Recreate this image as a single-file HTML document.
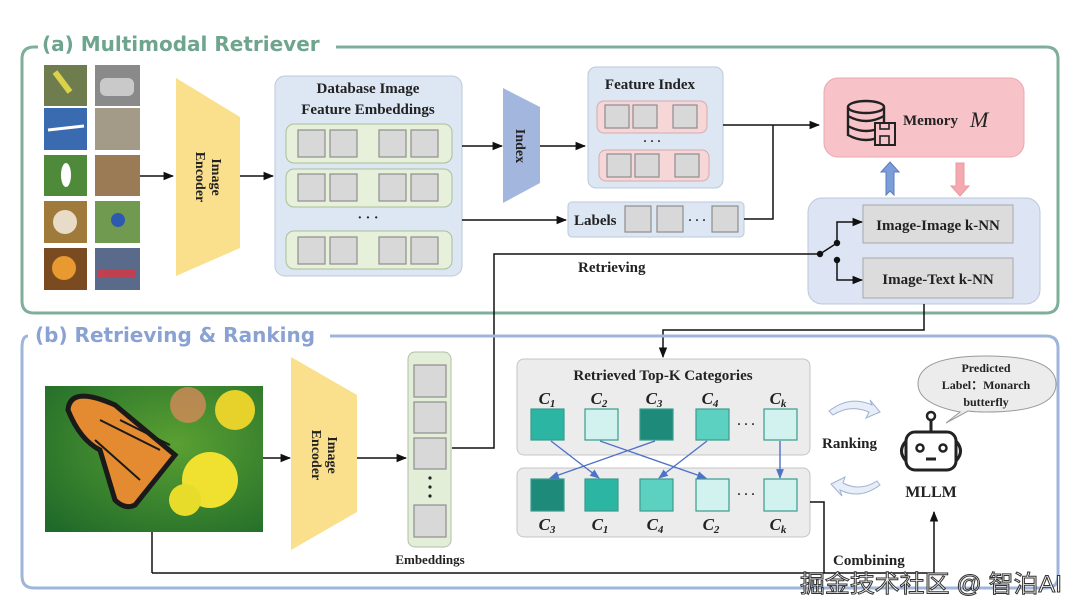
<!DOCTYPE html>
<html><head><meta charset="utf-8"><style>
html,body{margin:0;padding:0;background:#fff;}
svg{display:block;}
.t{font-family:"Liberation Serif",serif;font-weight:bold;fill:#222;}
.ti{font-family:"Liberation Serif",serif;font-style:italic;font-weight:bold;fill:#222;}
.h{font-family:"DejaVu Sans","Liberation Sans",sans-serif;font-weight:bold;}
</style></head><body>
<svg width="1080" height="616" viewBox="0 0 1080 616" xmlns="http://www.w3.org/2000/svg">
<defs>
<marker id="a" viewBox="0 0 10 10" refX="9" refY="5" markerWidth="7" markerHeight="7" orient="auto"><path d="M0,1 L10,5 L0,9 z" fill="#111"/></marker>
<marker id="b" viewBox="0 0 10 10" refX="9" refY="5" markerWidth="7" markerHeight="7" orient="auto"><path d="M0,1 L10,5 L0,9 z" fill="#4e72c8"/></marker>
<radialGradient id="bg" cx="0.6" cy="0.4" r="0.8"><stop offset="0" stop-color="#5aa032"/><stop offset="1" stop-color="#1f6a2a"/></radialGradient>
</defs>

<!-- Panel a -->
<path d="M336,47 H1046 Q1058,47 1058,59 V301 Q1058,313 1046,313 H34 Q22,313 22,301 V59 Q22,47 34,47 H38" fill="none" stroke="#7fae9a" stroke-width="3"/>
<text x="42" y="51" class="h" font-size="20" fill="#6fa58f">(a) Multimodal Retriever</text>

<!-- image grid -->
<g>
<rect x="44" y="65" width="43" height="41" fill="#6f7d4e"/><rect x="95" y="65" width="45" height="41" fill="#8a8a8a"/>
<rect x="44" y="108" width="43" height="42" fill="#3a6bb0"/><rect x="95" y="108" width="45" height="42" fill="#a49a88"/>
<rect x="44" y="155" width="43" height="41" fill="#4f8a3a"/><rect x="95" y="155" width="45" height="41" fill="#9b7b55"/>
<rect x="44" y="201" width="43" height="42" fill="#a07a3a"/><rect x="95" y="201" width="45" height="42" fill="#6f9a50"/>
<rect x="44" y="248" width="43" height="42" fill="#7a4a20"/><rect x="95" y="248" width="45" height="42" fill="#5a6a8a"/>
<path d="M55,72 L70,92" stroke="#d9d24a" stroke-width="6"/><rect x="100" y="78" width="34" height="18" rx="6" fill="#c9c9c9"/>
<path d="M48,130 L84,126" stroke="#fff" stroke-width="3"/><ellipse cx="66" cy="175" rx="5" ry="12" fill="#fff"/>
<circle cx="65" cy="222" r="12" fill="#e8dcc8"/><circle cx="118" cy="220" r="7" fill="#2d5ab0"/>
<circle cx="64" cy="268" r="12" fill="#e89a30"/><rect x="98" y="270" width="38" height="8" fill="#c04050"/>
</g>
<line x1="140" y1="176" x2="173" y2="176" stroke="#111" stroke-width="1.5" marker-end="url(#a)"/>
<polygon points="176,78 240,117 240,248 176,276" fill="#fadf8c"/>
<text transform="translate(208,177) rotate(90)" text-anchor="middle" class="t" font-size="14"><tspan x="0" y="-4">Image</tspan><tspan x="0" y="12">Encoder</tspan></text>
<line x1="240" y1="176" x2="273" y2="176" stroke="#111" stroke-width="1.5" marker-end="url(#a)"/>

<!-- DB embeddings -->
<rect x="275" y="76" width="187" height="200" rx="10" fill="#dde6f3" stroke="#bcc8dc"/>
<text x="368" y="93" text-anchor="middle" class="t" font-size="15">Database Image</text>
<text x="368" y="114" text-anchor="middle" class="t" font-size="15">Feature Embeddings</text>
<g fill="#e6f0da" stroke="#a9bf98">
<rect x="286" y="124" width="166" height="39" rx="8"/><rect x="286" y="169" width="166" height="38" rx="8"/><rect x="286" y="231" width="166" height="38" rx="8"/>
</g>
<g fill="#d8d8d8" stroke="#8e8e8e" stroke-width="1.2">
<rect x="298" y="130" width="27" height="27"/><rect x="330" y="130" width="27" height="27"/><rect x="379" y="130" width="27" height="27"/><rect x="411" y="130" width="27" height="27"/>
<rect x="298" y="174" width="27" height="27"/><rect x="330" y="174" width="27" height="27"/><rect x="379" y="174" width="27" height="27"/><rect x="411" y="174" width="27" height="27"/>
<rect x="298" y="237" width="27" height="27"/><rect x="330" y="237" width="27" height="27"/><rect x="379" y="237" width="27" height="27"/><rect x="411" y="237" width="27" height="27"/>
</g>
<text x="368" y="222" text-anchor="middle" class="t" font-size="14">· · ·</text>

<line x1="462" y1="146" x2="502" y2="146" stroke="#111" stroke-width="1.5" marker-end="url(#a)"/>
<polygon points="503,88 540,107 540,183 503,203" fill="#a3b7de"/>
<text transform="translate(521,146) rotate(90)" text-anchor="middle" y="5" class="t" font-size="14">Index</text>
<line x1="540" y1="146" x2="585" y2="146" stroke="#111" stroke-width="1.5" marker-end="url(#a)"/>

<!-- Feature index -->
<rect x="588" y="67" width="135" height="121" rx="8" fill="#dde6f3" stroke="#bcc8dc"/>
<text x="650" y="89" text-anchor="middle" class="t" font-size="15">Feature Index</text>
<rect x="597" y="101" width="110" height="32" rx="7" fill="#f7d6d8" stroke="#d4a9ad"/>
<rect x="599" y="150" width="110" height="31" rx="7" fill="#f7d6d8" stroke="#d4a9ad"/>
<g fill="#d8d8d8" stroke="#8e8e8e" stroke-width="1.2">
<rect x="605" y="105" width="24" height="23"/><rect x="633" y="105" width="24" height="23"/><rect x="673" y="105" width="24" height="23"/>
<rect x="607" y="154" width="24" height="23"/><rect x="635" y="154" width="24" height="23"/><rect x="675" y="154" width="24" height="23"/>
</g>
<text x="652" y="145" text-anchor="middle" class="t" font-size="12">· · ·</text>

<!-- Labels -->
<line x1="462" y1="220" x2="566" y2="220" stroke="#111" stroke-width="1.5" marker-end="url(#a)"/>
<rect x="568" y="202" width="176" height="35" rx="4" fill="#dde6f3" stroke="#bcc8dc"/>
<text x="574" y="225" class="t" font-size="15">Labels</text>
<g fill="#d8d8d8" stroke="#8e8e8e" stroke-width="1.2">
<rect x="625" y="206" width="26" height="26"/><rect x="657" y="206" width="26" height="26"/><rect x="712" y="206" width="26" height="26"/>
</g>
<text x="697" y="224" text-anchor="middle" class="t" font-size="12">· · ·</text>

<polyline points="723,125 819,125" fill="none" stroke="#111" stroke-width="1.5" marker-end="url(#a)"/>
<polyline points="744,219 773,219 773,125" fill="none" stroke="#111" stroke-width="1.5"/>

<!-- Memory -->
<rect x="824" y="78" width="200" height="79" rx="14" fill="#f7c3c8" stroke="#eaaab0"/>
<g fill="none" stroke="#222" stroke-width="2.4">
<ellipse cx="866" cy="107" rx="18" ry="6"/>
<path d="M848,107 V135 Q866,145 884,135 V107"/>
<path d="M848,116 Q866,126 884,116"/><path d="M848,126 Q866,136 884,126"/>
</g>
<rect x="875" y="123" width="20" height="22" fill="#f7c3c8" stroke="#222" stroke-width="2"/>
<rect x="880" y="123" width="9" height="6" fill="none" stroke="#222" stroke-width="1.6"/>
<rect x="880" y="136" width="9" height="9" fill="none" stroke="#222" stroke-width="1.6"/>
<text x="903" y="125" class="t" font-size="15">Memory</text>
<text x="970" y="127" font-family="Liberation Serif,serif" font-style="italic" font-size="22" fill="#222">M</text>
<polygon points="890,162 899,172 894,172 894,195 890,191 886,195 886,172 881,172" fill="#7b9ed8" stroke="#5a7cc0"/>
<polygon points="956,163 964,163 964,186 969,186 960,196 951,186 956,186" fill="#f4a9b0" stroke="#e99aa2"/>

<!-- kNN box -->
<rect x="808" y="198" width="232" height="106" rx="14" fill="#dde5f4" stroke="#bcc8dc"/>
<rect x="863" y="205" width="150" height="38" fill="#dcdcdc" stroke="#a8a8a8"/>
<rect x="863" y="258" width="150" height="40" fill="#dcdcdc" stroke="#a8a8a8"/>
<text x="938" y="230" text-anchor="middle" class="t" font-size="15">Image-Image k-NN</text>
<text x="938" y="284" text-anchor="middle" class="t" font-size="15">Image-Text k-NN</text>
<polyline points="837,243 837,222 862,222" fill="none" stroke="#111" stroke-width="1.5" marker-end="url(#a)"/>
<polyline points="837,260 837,280 862,280" fill="none" stroke="#111" stroke-width="1.5" marker-end="url(#a)"/>
<line x1="820" y1="254" x2="837" y2="243" stroke="#111" stroke-width="1.5"/>
<circle cx="820" cy="254" r="3.2" fill="#111"/><circle cx="837" cy="243" r="3.2" fill="#111"/><circle cx="837" cy="260" r="3.2" fill="#111"/>
<polyline points="820,254 494,254 494,448 452,448" fill="none" stroke="#111" stroke-width="1.5"/>
<text x="578" y="272" class="t" font-size="15">Retrieving</text>
<polyline points="924,304 924,330 663,330 663,357" fill="none" stroke="#111" stroke-width="1.5" marker-end="url(#a)"/>

<!-- Panel b -->
<path d="M330,336 H1046 Q1058,336 1058,348 V576 Q1058,588 1046,588 H34 Q22,588 22,576 V348 Q22,336 28,336" fill="none" stroke="#9fb5da" stroke-width="3"/>
<text x="35" y="342" class="h" font-size="20" fill="#8aa2d3">(b) Retrieving &amp; Ranking</text>

<!-- butterfly -->
<rect x="45" y="386" width="218" height="146" fill="url(#bg)"/>
<circle cx="235" cy="410" r="20" fill="#e6d22a"/><circle cx="188" cy="405" r="18" fill="#d48a5a" opacity="0.8"/>
<circle cx="210" cy="480" r="28" fill="#f0e030"/><circle cx="185" cy="500" r="16" fill="#e8dc2a"/>
<path d="M115,405 Q70,385 68,410 Q80,440 100,450 L115,500 Q125,510 135,505 L175,455 Z" fill="#e48a30" stroke="#1a1a1a" stroke-width="5"/>
<path d="M100,420 L160,450 M95,440 L140,480 M120,420 L170,445" stroke="#1a1a1a" stroke-width="2"/>
<line x1="152" y1="573" x2="152" y2="532" stroke="#111" stroke-width="1.5"/>

<line x1="263" y1="458" x2="290" y2="458" stroke="#111" stroke-width="1.5" marker-end="url(#a)"/>
<polygon points="291,357 357,395 357,512 291,550" fill="#fadf8c"/>
<text transform="translate(324,455) rotate(90)" text-anchor="middle" class="t" font-size="14"><tspan x="0" y="-4">Image</tspan><tspan x="0" y="12">Encoder</tspan></text>
<line x1="357" y1="458" x2="406" y2="458" stroke="#111" stroke-width="1.5" marker-end="url(#a)"/>

<rect x="408" y="352" width="43" height="195" rx="7" fill="#e3eed8" stroke="#b0bfa6"/>
<g fill="#d8d8d8" stroke="#8e8e8e" stroke-width="1.2">
<rect x="414" y="365" width="32" height="32"/><rect x="414" y="402" width="32" height="31"/><rect x="414" y="438" width="32" height="31"/><rect x="414" y="505" width="32" height="32"/>
</g>
<circle cx="430" cy="478" r="1.6" fill="#222"/><circle cx="430" cy="487" r="1.6" fill="#222"/><circle cx="430" cy="496" r="1.6" fill="#222"/>
<text x="430" y="564" text-anchor="middle" class="t" font-size="13">Embeddings</text>

<!-- Top-K -->
<rect x="517" y="359" width="293" height="96" rx="7" fill="#ececec" stroke="#c5c5c5"/>
<rect x="517" y="468" width="293" height="69" rx="7" fill="#ececec" stroke="#c5c5c5"/>
<text x="663" y="380" text-anchor="middle" class="t" font-size="15">Retrieved Top-K Categories</text>
<g class="ti" font-size="17" text-anchor="middle">
<text x="547" y="404">C<tspan font-size="11" dy="3">1</tspan></text>
<text x="599" y="404">C<tspan font-size="11" dy="3">2</tspan></text>
<text x="654" y="404">C<tspan font-size="11" dy="3">3</tspan></text>
<text x="710" y="404">C<tspan font-size="11" dy="3">4</tspan></text>
<text x="778" y="404">C<tspan font-size="11" dy="3">k</tspan></text>
<text x="547" y="530">C<tspan font-size="11" dy="3">3</tspan></text>
<text x="600" y="530">C<tspan font-size="11" dy="3">1</tspan></text>
<text x="655" y="530">C<tspan font-size="11" dy="3">4</tspan></text>
<text x="711" y="530">C<tspan font-size="11" dy="3">2</tspan></text>
<text x="778" y="530">C<tspan font-size="11" dy="3">k</tspan></text>
</g>
<g stroke="#3a9c8e" stroke-width="1.2">
<rect x="531" y="409" width="33" height="31" fill="#2db5a4"/>
<rect x="585" y="409" width="33" height="31" fill="#d2f2ef"/>
<rect x="640" y="409" width="33" height="31" fill="#1d8a7a"/>
<rect x="696" y="409" width="33" height="31" fill="#5dd1c1"/>
<rect x="764" y="409" width="33" height="31" fill="#d2f2ef"/>
<rect x="531" y="479" width="33" height="32" fill="#1d8a7a"/>
<rect x="585" y="479" width="33" height="32" fill="#2db5a4"/>
<rect x="640" y="479" width="33" height="32" fill="#5dd1c1"/>
<rect x="696" y="479" width="33" height="32" fill="#d2f2ef"/>
<rect x="764" y="479" width="33" height="32" fill="#d2f2ef"/>
</g>
<text x="746" y="428" text-anchor="middle" class="t" font-size="12">· · ·</text>
<text x="746" y="498" text-anchor="middle" class="t" font-size="12">· · ·</text>
<g stroke="#4e72c8" stroke-width="1.4" marker-end="url(#b)">
<line x1="551" y1="441" x2="599" y2="478"/>
<line x1="600" y1="441" x2="706" y2="478"/>
<line x1="655" y1="441" x2="550" y2="478"/>
<line x1="707" y1="441" x2="659" y2="478"/>
<line x1="780" y1="441" x2="780" y2="478"/>
</g>

<!-- ranking arrows -->
<path d="M829,411 Q850,395 872,405 L870,400 L880,412 L866,418 L869,412 Q850,404 833,415 Z" fill="#e8eef8" stroke="#9fb2d3"/>
<path d="M880,485 Q860,500 840,490 L842,496 L831,484 L845,477 L843,483 Q860,492 877,481 Z" fill="#e8eef8" stroke="#9fb2d3"/>
<text x="822" y="448" class="t" font-size="15">Ranking</text>

<!-- robot -->
<g fill="none" stroke="#222" stroke-width="3">
<rect x="906" y="432" width="50" height="38" rx="9"/>
<path d="M906,441 Q897,451 906,461"/><path d="M956,441 Q965,451 956,461"/>
<line x1="931" y1="432" x2="931" y2="420"/><circle cx="931" cy="416" r="4" stroke-width="2.5"/>
<circle cx="920" cy="448" r="3.5" stroke-width="2.5"/><circle cx="943" cy="448" r="3.5" stroke-width="2.5"/>
<line x1="926" y1="459" x2="936" y2="459"/>
</g>
<text x="931" y="497" text-anchor="middle" class="t" font-size="16">MLLM</text>

<!-- bubble -->
<path d="M960,412 Q918,404 918,384 Q918,356 986,356 Q1056,356 1056,384 Q1056,412 986,412 Q975,412 968,411 L946,423 Z" fill="#ececec" stroke="#9a9a9a"/>
<text x="986" y="372" text-anchor="middle" class="t" font-size="12">Predicted</text>
<text x="986" y="389" text-anchor="middle" class="t" font-size="12">Label：Monarch</text>
<text x="986" y="406" text-anchor="middle" class="t" font-size="12">butterfly</text>

<!-- combining -->
<polyline points="810,502 824,502 824,573" fill="none" stroke="#111" stroke-width="1.5"/>
<line x1="152" y1="573" x2="934" y2="573" stroke="#111" stroke-width="1.5"/>
<line x1="934" y1="573" x2="934" y2="512" stroke="#111" stroke-width="1.5" marker-end="url(#a)"/>
<text x="833" y="565" class="t" font-size="15">Combining</text>

<text x="800" y="592" font-family="'Liberation Sans','Noto Sans CJK SC',sans-serif" font-size="24" textLength="262" lengthAdjust="spacingAndGlyphs" fill="#fff" stroke="#333" stroke-width="1">掘金技术社区 @ 智泊AI</text>
</svg>
</body></html>
